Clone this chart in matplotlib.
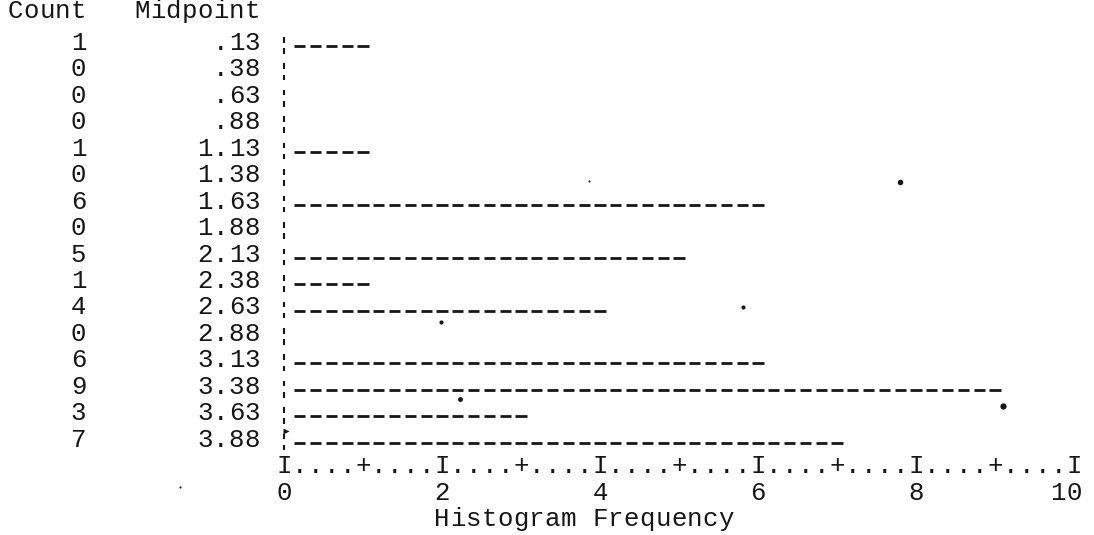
import matplotlib
matplotlib.use("Agg")
import matplotlib.pyplot as plt
from matplotlib.collections import LineCollection

# Histogram table: bin midpoints and counts
midpoints = [".13", ".38", ".63", ".88", "1.13", "1.38", "1.63", "1.88",
             "2.13", "2.38", "2.63", "2.88", "3.13", "3.38", "3.63", "3.88"]
counts = [1, 0, 0, 0, 1, 0, 6, 0, 5, 1, 4, 0, 6, 9, 3, 7]
freq_ticks = [0, 2, 4, 6, 8, 10]
x_label = "Histogram Frequency"
headers = ["Count", "Midpoint"]

INK = "#161616"
FONT = "Liberation Mono"
FS = 18.5
CELL = 0.2          # frequency units per character column (5 columns per unit)
ROW_PX = 26.45      # pixel height of one printed line
TOP_PX = 46.0       # pixel position of the first line's centre
BASE = 4.0 / ROW_PX  # baseline sits a little below the line centre
XMAX = 10

W, H = 1094, 535
fig = plt.figure(figsize=(W / 100, H / 100), dpi=100)
fig.patch.set_facecolor("white")

x0_px, x1_px = 284, 1074
ax = fig.add_axes([x0_px / W, 0, (x1_px - x0_px) / W, 1])
ax.set_xlim(0, XMAX)
ax.set_ylim((H - TOP_PX) / ROW_PX, -TOP_PX / ROW_PX)
ax.axis("off")


def put(col, row, s):
    """Print a string on the character grid, one glyph per column."""
    for i, ch in enumerate(s):
        if ch != " ":
            ax.text((col + i) * CELL, row + BASE, ch, ha="center", va="baseline",
                    fontfamily=FONT, fontsize=FS, color=INK, clip_on=False)


# column headers
put(-17, -1.2, headers[0])
put(-1 - len(headers[1]), -1.2, headers[1])

# counts and midpoints, right-aligned in their columns
for r, (n, m) in enumerate(zip(counts, midpoints)):
    s = str(n)
    put(-12 - len(s), r, s)
    put(-1 - len(m), r, m)

# broken-bar baseline at zero frequency
bar_segs = []
for r in range(len(counts)):
    bar_segs.append([(0, r - 0.34), (0, r - 0.13)])
    bar_segs.append([(0, r + 0.08), (0, r + 0.29)])
ax.add_collection(LineCollection(bar_segs, colors=INK, linewidths=1.5,
                                 capstyle="butt", clip_on=False))

# histogram bars: one dash per character column, five columns per count
half = 0.07
dash_segs = []
for r, n in enumerate(counts):
    for k in range(1, int(round(n / CELL)) + 1):
        xc = k * CELL
        dash_segs.append([(xc - half, r), (xc + half, r)])
ax.add_collection(LineCollection(dash_segs, colors=INK, linewidths=2.0,
                                 capstyle="butt", clip_on=False))

# frequency scale line: I at labelled ticks, + at midpoints, dots between
axis_row = len(counts)
ncols = int(round(XMAX / CELL))
scale = "".join("I" if c % 10 == 0 else ("+" if c % 5 == 0 else ".")
                for c in range(ncols + 1))
put(0, axis_row, scale)

# tick numbers, right-aligned under each I
for t in freq_ticks:
    s = str(t)
    c = int(round(t / CELL))
    put(c - len(s) + 1, axis_row + 1, s)

# axis title
put(10, axis_row + 2, x_label)

# specks on the printed page
ov = fig.add_axes([0, 0, 1, 1], zorder=-1)
ov.set_xlim(0, W)
ov.set_ylim(H, 0)
ov.axis("off")
speck_x = [900, 1003, 460, 441, 743, 180, 589]
speck_y = [182, 406, 399, 322, 307, 487, 181]
speck_s = [4.0, 4.5, 3.5, 3.0, 3.0, 1.5, 1.5]
for sx, sy, ss in zip(speck_x, speck_y, speck_s):
    ov.plot(sx, sy, "o", ms=ss, color=INK, mec="none")
ov.plot(286, 431, ">", ms=4, color=INK, mec="none")

fig.savefig("out.png", dpi=100, facecolor="white")
